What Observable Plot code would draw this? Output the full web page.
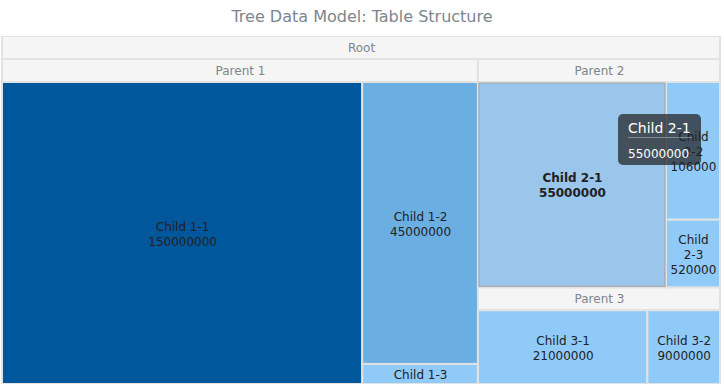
<!DOCTYPE html>
<html><head><meta charset="utf-8">
<script src="https://cdn.jsdelivr.net/npm/d3@7"></script>
<script src="https://cdn.jsdelivr.net/npm/@observablehq/plot@0.6"></script>
<style>
body{margin:0;background:#fff;font-family:"DejaVu Sans",Verdana,sans-serif;}
#wrap{position:relative;width:724px;height:384px;overflow:hidden;}
#title{height:36px;line-height:34px;text-align:center;font-size:16px;color:#7c868e;}
#chart svg{display:block;}
#tip{position:absolute;left:618px;top:114px;width:83px;height:51px;border-radius:5px;background:rgba(33,33,33,0.72);color:#fff;box-sizing:border-box;padding:5px 9px 0 10px;}
#tip .t{font-size:14px;line-height:18px;white-space:nowrap;}
#tip .s{height:1px;background:rgba(255,255,255,0.35);margin:0 0 8px 0;}
#tip .v{font-size:12px;line-height:16px;white-space:nowrap;}
</style></head>
<body>
<div id="wrap">
  <div id="title">Tree Data Model: Table Structure</div>
  <div id="chart"></div>
  <div id="tip"><div class="t" id="tipName"></div><div class="s"></div><div class="v" id="tipValue"></div></div>
</div>
<script>
// ---- data ----
const ids     = ["1", "2", "3", "4", "5", "6", "7", "8", "9", "10", "11", "12"];
const parents = [null, "1", "2", "2", "2", "1", "6", "6", "6", "1", "10", "10"];
const names   = ["Root", "Parent 1", "Child 1-1", "Child 1-2", "Child 1-3",
                 "Parent 2", "Child 2-1", "Child 2-2", "Child 2-3",
                 "Parent 3", "Child 3-1", "Child 3-2"];
const values  = [null, null, 150000000, 45000000, 3200000,
                 null, 55000000, 10600000, 5200000,
                 null, 21000000, 9000000];
const hoveredName = "Child 2-1";

// ---- layout ----
const W = 718, H = 348, HEADER = 23, LINE = 15;
const table = names.map((name, i) => ({id: ids[i], parent: parents[i], name, value: values[i]}));
const root = d3.stratify().id(d => d.id).parentId(d => d.parent)(table)
  .sum(d => d.value ?? 0);
d3.treemap().tile(d3.treemapSquarify.ratio(1)).size([W, H]).paddingTop(HEADER)(root);
const leaves = root.leaves();
const internal = root.descendants().filter(d => d.children);

// label fitting (wrap name, truncate value, drop lines that don't fit)
const ctx = document.createElement("canvas").getContext("2d");
ctx.font = '12px "DejaVu Sans"';
const tw = s => ctx.measureText(s).width;
function truncate(s, w) { while (s.length > 1 && tw(s) > w) s = s.slice(0, -1); return s; }
function labelFor(d) {
  const w = d.x1 - d.x0 - 4, h = d.y1 - d.y0 - 4;
  let lines = [];
  const name = d.data.name;
  if (tw(name) <= w) lines.push(name);
  else {
    let cur = "";
    for (const word of name.split(" ")) {
      const test = cur ? cur + " " + word : word;
      if (tw(test) <= w) cur = test;
      else { if (cur) lines.push(cur); cur = truncate(word, w); }
    }
    if (cur) lines.push(cur);
  }
  lines.push(truncate(String(d.data.value), w));
  const maxLines = Math.max(1, Math.floor(h / LINE));
  return lines.slice(0, maxLines).join("\n");
}

const hov = leaves.filter(d => d.data.name === hoveredName);
const rest = leaves.filter(d => d.data.name !== hoveredName);

const chart = Plot.plot({
  width: 724, height: H, margin: 0,
  style: {fontFamily: '"DejaVu Sans", Verdana, sans-serif', background: "#fff"},
  x: {domain: [-2, 722], range: [0, 724], axis: null},
  y: {domain: [0, H], range: [0, H], axis: null},
  color: {type: "threshold", domain: [30e6, 100e6], range: ["#90caf9", "#6aaee2", "#01579b"]},
  marks: [
    Plot.rect(internal, {x1: "x0", x2: "x1", y1: "y0", y2: d => d.y0 + HEADER,
      fill: "#f5f5f5", stroke: "#e2e2e2", strokeWidth: 2}),
    Plot.text(internal, {x: d => (d.x0 + d.x1) / 2, y: d => d.y0 + HEADER / 2,
      text: d => d.data.name, fill: "#7c868e", fontSize: 12}),
    Plot.rect(leaves, {x1: "x0", x2: "x1", y1: "y0", y2: "y1",
      fill: d => d.data.value, stroke: "#e2e2e2", strokeWidth: 2}),
    Plot.rect(hov, {x1: "x0", x2: "x1", y1: "y0", y2: "y1",
      fill: "#99c6ea", stroke: "#a3a3a3", strokeWidth: 1, inset: 1}),
    Plot.text(rest, {x: d => (d.x0 + d.x1) / 2, y: d => (d.y0 + d.y1) / 2,
      text: labelFor, fill: "#212121", fontSize: 12, lineHeight: LINE / 12}),
    Plot.text(hov, {x: d => (d.x0 + d.x1) / 2, y: d => (d.y0 + d.y1) / 2,
      text: labelFor, fill: "#212121", fontSize: 12, fontWeight: "bold", lineHeight: LINE / 12})
  ]
});
document.getElementById("chart").appendChild(chart);
const h0 = hov[0];
document.getElementById("tipName").textContent = h0.data.name;
document.getElementById("tipValue").textContent = String(h0.data.value);
</script>
</body></html>
